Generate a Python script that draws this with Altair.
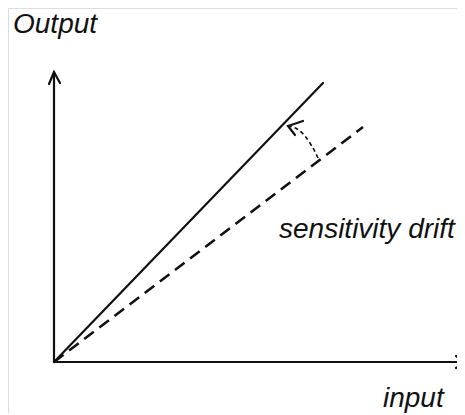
import altair as alt
import pandas as pd

# Schematic data (input/output units, origin at 0,0)
yaxis_x = [0, 0]
yaxis_y = [0, 290]
xaxis_x = [0, 411]
xaxis_y = [0, 0]
yhead_x = [-5, 0, 6]
yhead_y = [278, 290, 279]
xhead_x = [402, 411, 402]
xhead_y = [6, 0, -6]
ideal_x = [0, 269]
ideal_y = [0, 279]
drift_x = [0, 309]
drift_y = [0, 235]
curve_x = [264, 259, 251, 243, 235]
curve_y = [204, 214, 226, 233, 236]
chead_x = [249, 234, 241]
chead_y = [241, 236, 227]

labels = ["Output", "sensitivity drift", "input"]
label_x = [-41, 225, 329]
label_y = [329, 124, -45]


def seg(name, xs, ys):
    return pd.DataFrame({"g": name, "x": xs, "y": ys, "o": list(range(len(xs)))})


solid_df = pd.concat([
    seg("yaxis", yaxis_x, yaxis_y),
    seg("xaxis", xaxis_x, xaxis_y),
    seg("yhead", yhead_x, yhead_y),
    seg("xhead", xhead_x, xhead_y),
    seg("ideal", ideal_x, ideal_y),
    seg("chead", chead_x, chead_y),
])
drift_df = seg("drift", drift_x, drift_y)
curve_df = seg("curve", curve_x, curve_y)
text_df = pd.DataFrame({"t": labels, "x": label_x, "y": label_y})

xs = alt.Scale(domain=[-46, 403], nice=False, zero=False)
ys = alt.Scale(domain=[-51, 354], nice=False, zero=False)
X = alt.X("x:Q", scale=xs, axis=None)
Y = alt.Y("y:Q", scale=ys, axis=None)

ink = "#111111"

solid = alt.Chart(solid_df).mark_line(color=ink, strokeWidth=2.2, strokeCap="round").encode(
    x=X, y=Y, detail="g:N", order="o:Q")
drift = alt.Chart(drift_df).mark_line(color=ink, strokeWidth=2.6, strokeDash=[12, 7]).encode(
    x=X, y=Y, order="o:Q")
curve = alt.Chart(curve_df).mark_line(color=ink, strokeWidth=1.6, strokeDash=[4, 3],
                                      interpolate="cardinal").encode(x=X, y=Y, order="o:Q")
text = alt.Chart(text_df).mark_text(align="left", baseline="alphabetic", font="Liberation Sans",
                                    fontStyle="italic", fontSize=28, color=ink).encode(
    x=X, y=Y, text="t:N")

chart = alt.layer(solid, drift, curve, text).properties(
    width=449, height=405, autosize=alt.AutoSizeParams(type="none"), padding=0
).configure_view(stroke=None).configure(background="white")

chart.save("out.html", embed_options={"renderer": "svg", "actions": False})
